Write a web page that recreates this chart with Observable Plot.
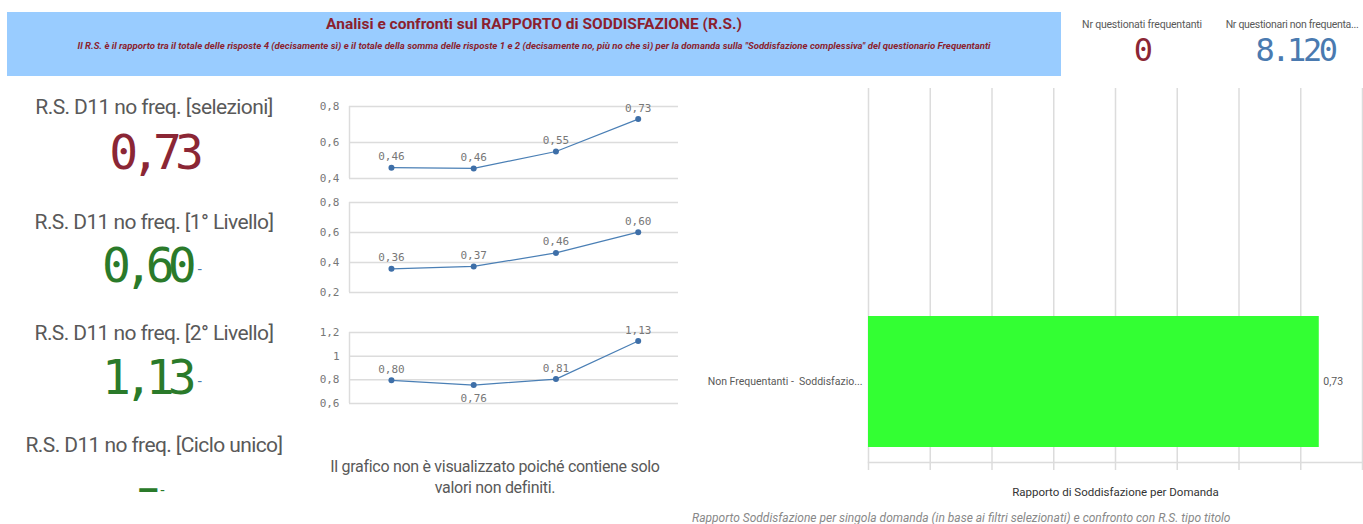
<!DOCTYPE html>
<html><head><meta charset="utf-8">
<script src="https://cdn.jsdelivr.net/npm/d3@7"></script>
<script src="https://cdn.jsdelivr.net/npm/@observablehq/plot@0.6"></script>
<style>
body{margin:0;background:#fff;font-family:"Roboto",sans-serif;}
#root{position:relative;width:1363px;height:524px;overflow:hidden;}
.abs{position:absolute;white-space:nowrap;}
.kpiT{left:0;width:308px;text-align:center;font-size:21px;letter-spacing:-0.6px;color:#595959;line-height:26px;}
.kpiV{left:0;width:306px;text-align:center;font-family:"DejaVu Sans Mono",monospace;font-size:48px;letter-spacing:-7px;line-height:54px;}
.dash{font-size:14px;letter-spacing:0;vertical-align:middle;margin-left:6px;}
.mono{font-family:"DejaVu Sans Mono",monospace;}
</style></head><body><div id="root"></div>
<script>
// ---------- data ----------
const headerTitle = "Analisi e confronti sul RAPPORTO di SODDISFAZIONE (R.S.)";
const headerSubtitle = "Il R.S. è il rapporto tra il totale delle risposte 4 (decisamente sì) e il totale della somma delle risposte 1 e 2 (decisamente no, più no che sì) per la domanda sulla \"Soddisfazione complessiva\" del questionario Frequentanti";
const countLabels = ["Nr questionati frequentanti", "Nr questionari non frequenta..."];
const countValues = ["0", "8.120"];
const kpiTitles = ["R.S. D11 no freq. [selezioni]", "R.S. D11 no freq. [1° Livello]", "R.S. D11 no freq. [2° Livello]", "R.S. D11 no freq. [Ciclo unico]"];
const kpiValues = ["0,73", "0,60", "1,13", "-"];
const periods = [1, 2, 3, 4];
const rsSelezioni = [0.46, 0.456, 0.55, 0.73];
const rsLivello1 = [0.358, 0.374, 0.464, 0.602];
const rsLivello2 = [0.796, 0.756, 0.806, 1.128];
const ticksSelezioni = [0.4, 0.6, 0.8];
const ticksLivello1 = [0.2, 0.4, 0.6, 0.8];
const ticksLivello2 = [0.6, 0.8, 1, 1.2];
const emptyMessage = ["Il grafico non è visualizzato poiché contiene solo", "valori non definiti."];
const barCategories = ["Non Frequentanti -  Soddisfazio..."];
const barValues = [0.73];
const barAxisTitle = "Rapporto di Soddisfazione per Domanda";
const barCaption = "Rapporto Soddisfazione per singola domanda (in base ai filtri selezionati) e confronto con R.S. tipo titolo";

// ---------- helpers ----------
const root = document.getElementById("root");
function el(html, style, cls) {
  const d = document.createElement("div");
  d.className = "abs " + (cls || "");
  d.innerHTML = html;
  Object.assign(d.style, style);
  root.appendChild(d);
  return d;
}
const comma = s => String(s).replace(".", ",");
const fmt2 = v => comma(v.toFixed(2));
const fmtTick = v => comma(v);

// ---------- header ----------
el("", {left:"7px", top:"12px", width:"1054px", height:"64px", background:"#99ccff"});
el(headerTitle, {left:"7px", width:"1054px", top:"15px", textAlign:"center", fontWeight:"bold", fontSize:"15.5px", color:"#8b1f2f"});
el(headerSubtitle, {left:"7px", width:"1054px", top:"40px", textAlign:"center", fontWeight:"bold", fontStyle:"italic", fontSize:"9.6px", color:"#8b1f2f"});
el(countLabels[0], {left:"1072px", width:"140px", top:"18px", textAlign:"center", fontSize:"10.5px", letterSpacing:"-0.2px", color:"#595959"});
el(countLabels[1], {left:"1222px", width:"140px", top:"18px", textAlign:"center", fontSize:"10.5px", letterSpacing:"-0.3px", color:"#595959"});
el(countValues[0], {left:"1072px", width:"140px", top:"31px", textAlign:"center", fontSize:"32px", color:"#8b2635", letterSpacing:"-3px"}, "mono");
el(countValues[1], {left:"1222px", width:"146px", top:"31px", textAlign:"center", fontSize:"32px", color:"#4a7ab0", letterSpacing:"-3.5px"}, "mono");

// ---------- KPIs ----------
const kpiTitleTop = [94, 209, 320, 432];
const kpiValueTop = [125, 238, 350, 463];
const kpiColor = ["#8b2635", "#2a7a2a", "#2a7a2a", "#2a7a2a"];
const dashColor = [null, "#4a7ab0", "#4a7ab0", "#2a7a2a"];
kpiTitles.forEach((t, i) => {
  el(t, {top: kpiTitleTop[i] + "px"}, "kpiT");
  const dash = dashColor[i] ? `<span class="dash" style="color:${dashColor[i]}">-</span>` : "";
  if (kpiValues[i] === "-") {
    el(`<span style="font-weight:bold;font-size:30px;letter-spacing:0">–</span><span style="font-size:14px;letter-spacing:0;margin-left:1px;vertical-align:4px">-</span>`,
       {top: "464px", color: kpiColor[i], lineHeight: "36px"}, "kpiV");
  } else {
    el(`<span>${kpiValues[i]}</span>${dash}`, {top: kpiValueTop[i] + "px", color: kpiColor[i]}, "kpiV");
  }
});

// ---------- line charts ----------
function lineChart(values, yDomain, yTicks, top, height, marginTop, marginBottom, belowIdx) {
  const data = periods.map((p, i) => ({p, v: values[i], i}));
  const chart = Plot.plot({
    width: 380, height, marginLeft: 49, marginRight: 2, marginTop, marginBottom,
    x: {domain: [0.49, 4.49], axis: null},
    y: {domain: yDomain, axis: null},
    style: {fontFamily: "DejaVu Sans Mono, monospace", fontSize: "11px", color: "#777", background: "transparent", overflow: "visible"},
    marks: [
      Plot.ruleY(yTicks, {stroke: "#dcdcdc", strokeWidth: 1.5}),
      Plot.ruleX([0.49], {y1: yDomain[0], y2: yDomain[1], stroke: "#dcdcdc", strokeWidth: 1.5}),
      Plot.axisY(yTicks, {tickSize: 0, tickPadding: 10, tickFormat: fmtTick, label: null, fill: "#777", fontSize: 11}),
      Plot.line(data, {x: "p", y: "v", stroke: "#4a7fb5", strokeWidth: 1.2}),
      Plot.dot(data, {x: "p", y: "v", r: 3, fill: "#3e6fa8"}),
      Plot.text(data.filter(d => d.i !== belowIdx), {x: "p", y: "v", text: d => fmt2(d.v), dy: -11, fill: "#777", fontSize: 11}),
      Plot.text(data.filter(d => d.i === belowIdx), {x: "p", y: "v", text: d => fmt2(d.v), dy: 13, fill: "#777", fontSize: 11})
    ]
  });
  const wrap = el("", {left: "300px", top: top + "px"});
  wrap.appendChild(chart);
}
lineChart(rsSelezioni, [0.4, 0.8], ticksSelezioni, 95, 90, 11, 7, -1);
lineChart(rsLivello1, [0.2, 0.8], ticksLivello1, 190, 108, 12, 6, -1);
lineChart(rsLivello2, [0.6, 1.2], ticksLivello2, 320, 89, 12, 6, 1);

el(emptyMessage.join("<br>"), {left: "300px", width: "390px", top: "456px", textAlign: "center", fontSize: "16px", letterSpacing: "-0.3px", lineHeight: "21px", color: "#595959"});

// ---------- bar chart ----------
const barData = barCategories.map((c, i) => ({c, v: barValues[i]}));
const gridTicks = d3.ticks(0, 0.8, 8);
const bar = Plot.plot({
  width: 683, height: 430, marginLeft: 188, marginRight: 1, marginTop: 8, marginBottom: 48,
  x: {domain: [0, 0.8], axis: null},
  y: {domain: barCategories, range: [236, 367], padding: 0, axis: null},
  style: {fontFamily: "Roboto, sans-serif", fontSize: "11px", color: "#595959", background: "transparent"},
  marks: [
    Plot.ruleX(gridTicks, {stroke: "#dcdcdc", strokeWidth: 1.5}),
    Plot.axisX(gridTicks, {tickSize: 8, tickFormat: () => "", stroke: "#dcdcdc", strokeWidth: 1.5, label: null}),
    Plot.frame({anchor: "bottom", stroke: "#dcdcdc", strokeWidth: 1.5}),
    Plot.barX(barData, {x: "v", y: "c", fill: "#33ff33"}),
    Plot.text(barData, {x: "v", y: "c", text: d => fmt2(d.v), textAnchor: "start", dx: 4, fill: "#595959", fontSize: 10.5}),
    Plot.axisY({tickSize: 0, tickPadding: 6, label: null, fill: "#595959", fontSize: 10.5}),
    Plot.text([barAxisTitle], {frameAnchor: "bottom", dy: 33, fill: "#333", fontSize: 11.5})
  ]
});
el("", {left: "680px", top: "80px"}).appendChild(bar);
el(barCaption, {left: "692px", top: "511px", fontStyle: "italic", fontSize: "12px", color: "#888"});
</script>
</body></html>
